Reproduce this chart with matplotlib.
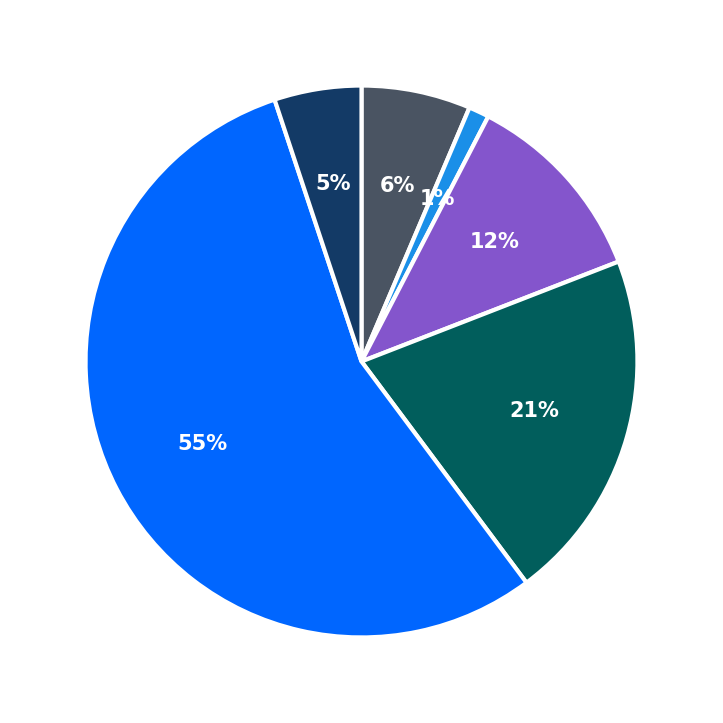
import matplotlib
matplotlib.use("Agg")
import matplotlib.pyplot as plt

labels = ["A", "B", "C", "D", "E", "F"]
values = [6.4, 1.2, 11.5, 20.7, 55.1, 5.1]
colors = ["#4a5462", "#1a8fe8", "#8455cc", "#015e5c", "#0066ff", "#133a66"]

fig = plt.figure(figsize=(7.23, 7.23), dpi=100)
ax = fig.add_axes([0, 0, 1, 1])
wedges, texts, autotexts = ax.pie(values, colors=colors, startangle=90, counterclock=False,
       autopct='%.0f%%', pctdistance=0.65,
       wedgeprops=dict(edgecolor='white', linewidth=3),
       textprops=dict(color='white', fontsize=15, fontweight='bold'))
ax.set_xlim(-1.31, 1.31)
ax.set_ylim(-1.31, 1.31)
ax.set_aspect('equal')
ax.axis('off')
fig.savefig("out.png", dpi=100, facecolor='white')
